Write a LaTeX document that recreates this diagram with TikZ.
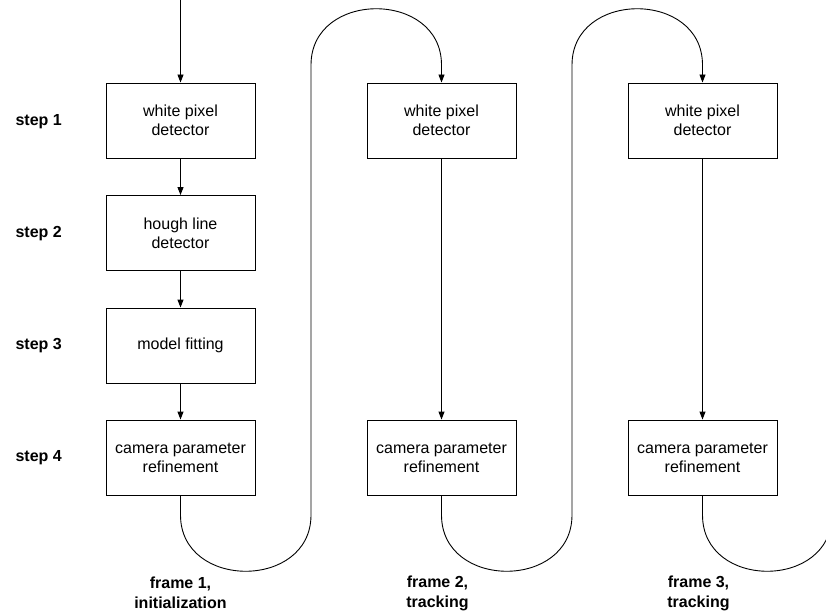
\documentclass[tikz,border=0pt]{standalone}
\usepackage{fontspec}
\setmainfont{Liberation Sans}
\usetikzlibrary{arrows.meta}
\begin{document}
\begin{tikzpicture}[x=1pt,y=-1pt,
  stepbox/.style={draw,line width=0.9pt,minimum width=149pt,minimum height=75pt,align=center,inner sep=0pt,font=\fontsize{16}{19}\selectfont},
  steplabel/.style={anchor=west,font=\bfseries\fontsize{16}{19}\selectfont},
  framelabel/.style={align=center,font=\bfseries\fontsize{16}{20}\selectfont},
  conn/.style={line width=0.9pt,-{Triangle[length=8pt,width=6pt]}},
  plain/.style={line width=0.9pt}]
\useasboundingbox (0,0) rectangle (826,612);
\clip (0,0) rectangle (826,612);
% column 1
\node[stepbox] (a1) at (180.5,120.5) {white pixel\\detector};
\node[stepbox] (a2) at (180.5,233) {hough line\\detector};
\node[stepbox] (a3) at (180.5,345.5) {model fitting};
\node[stepbox] (a4) at (180.5,457.5) {camera parameter\\refinement};
% column 2
\node[stepbox] (b1) at (441.5,120.5) {white pixel\\detector};
\node[stepbox] (b4) at (441.5,457.5) {camera parameter\\refinement};
% column 3
\node[stepbox] (c1) at (702.5,120.5) {white pixel\\detector};
\node[stepbox] (c4) at (702.5,457.5) {camera parameter\\refinement};
% step labels
\node[steplabel] (s1) at (12,122) {step 1};
\node[steplabel] (s2) at (12,234) {step 2};
\node[steplabel] (s3) at (12,346) {step 3};
\node[steplabel] (s4) at (12,458) {step 4};
% frame labels
\node[framelabel] (f1) at (180.5,593) {frame 1,\\initialization};
\node[framelabel] (f2) at (437.5,593) {frame 2,\\tracking};
\node[framelabel] (f3) at (698.5,593) {frame 3,\\tracking};
% connectors
\coordinate (start) at (180.5,0);
\coordinate (endout) at (832,515);
\draw[conn] (start) -- (a1.north);
\draw[conn] (a1) -- (a2);
\draw[conn] (a2) -- (a3);
\draw[conn] (a3) -- (a4);
\draw[conn] (b1) -- (b4);
\draw[conn] (c1) -- (c4);
\draw[conn] (a4.south) -- (180.5,515) .. controls (180.5,590) and (311,590) .. (311,515)
  -- (311,65) .. controls (311,-10) and (441.5,-10) .. (441.5,65) -- (b1.north);
\draw[conn] (b4.south) -- (441.5,515) .. controls (441.5,590) and (572,590) .. (572,515)
  -- (572,65) .. controls (572,-10) and (702.5,-10) .. (702.5,65) -- (c1.north);
\draw[plain] (c4.south) -- (702.5,515) .. controls (702.5,590) and (832,590) .. (endout);
\end{tikzpicture}
\end{document}
